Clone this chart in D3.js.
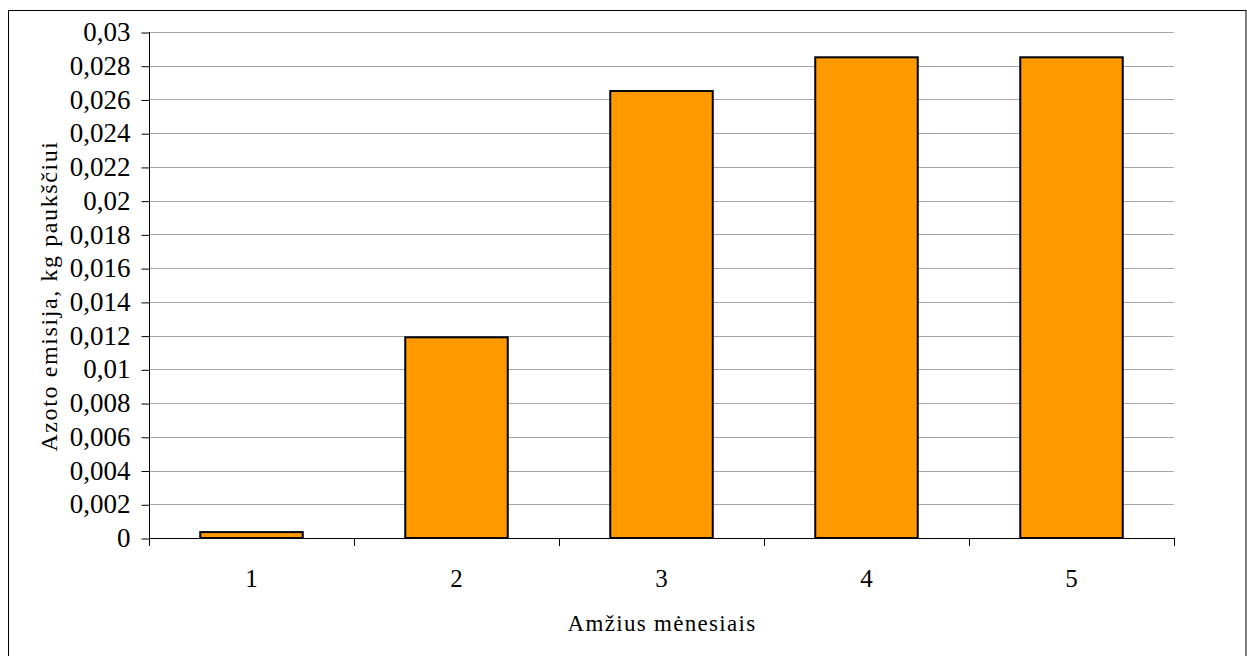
<!DOCTYPE html>
<html>
<head>
<meta charset="utf-8">
<script src="https://cdn.jsdelivr.net/npm/d3@7"></script>
<style>
  html, body { margin: 0; padding: 0; background: #fff; }
  svg { display: block; }
</style>
</head>
<body>
<svg id="chart" width="1247" height="656"></svg>
<script>
// Azoto emisija pagal amžių
const categories = ["1", "2", "3", "4", "5"];
const values = [0.00035, 0.0119, 0.0265, 0.0285, 0.0285];
const yTicks = [0, 0.002, 0.004, 0.006, 0.008, 0.01, 0.012, 0.014, 0.016, 0.018, 0.02, 0.022, 0.024, 0.026, 0.028, 0.03];
const xTitle = "Amžius mėnesiais";
const yTitle = "Azoto emisija, kg paukščiui";

const FONT = '"Liberation Serif", "Times New Roman", Times, serif';
const svg = d3.select("#chart");
const W = 1247, H = 656;
const m = { left: 149, right: 1174, top: 32, bottom: 538 };

// outer frame
svg.append("rect")
  .attr("x", 8.5).attr("y", 10.5)
  .attr("width", W - 9.5).attr("height", H)
  .attr("fill", "none").attr("stroke", "#000").attr("stroke-width", 1);

const x = d3.scaleBand().domain(categories)
  .range([m.left, m.right]).paddingInner(0.5).paddingOuter(0.25);
const y = d3.scaleLinear().domain([0, 0.03]).range([m.bottom, m.top]);

const fmt = d => String(+d.toFixed(3)).replace(".", ",");

// gridlines
svg.append("g").selectAll("line")
  .data(yTicks.filter(t => t > 0))
  .join("line")
  .attr("x1", m.left).attr("x2", m.right)
  .attr("y1", d => Math.round(y(d)) + 0.5).attr("y2", d => Math.round(y(d)) + 0.5)
  .attr("stroke", "#a6a6a6").attr("stroke-width", 1);

// bars
svg.append("g").selectAll("rect")
  .data(values)
  .join("rect")
  .attr("x", (d, i) => x(categories[i]))
  .attr("y", d => y(d))
  .attr("width", x.bandwidth())
  .attr("height", d => y(0) - y(d))
  .attr("fill", "#ff9900")
  .attr("stroke", "#000").attr("stroke-width", 2);

// y axis
const yAxis = d3.axisLeft(y).tickValues(yTicks).tickFormat(fmt).tickSize(8).tickPadding(11);
const gy = svg.append("g").attr("transform", `translate(${m.left + 0.5},0)`).call(yAxis)
  .attr("font-family", null).attr("font-size", null);
gy.selectAll(".tick line").attr("stroke", "#000").attr("transform", "translate(0,0.5)");
gy.select(".domain").attr("stroke", "#000").attr("d", `M0,${m.top}V${m.bottom + 8}`);
gy.selectAll(".tick text").attr("fill", "#000")
  .style("font-family", FONT).style("font-size", "27px");

// x axis: ticks on category boundaries
const boundaries = d3.range(categories.length + 1).map(i => m.left + i * x.step());
const gx = svg.append("g");
gx.append("line")
  .attr("x1", m.left).attr("x2", m.right)
  .attr("y1", m.bottom + 0.5).attr("y2", m.bottom + 0.5)
  .attr("stroke", "#000");
gx.selectAll("line.tk").data(boundaries).join("line")
  .attr("class", "tk")
  .attr("x1", d => Math.round(d) + 0.5).attr("x2", d => Math.round(d) + 0.5)
  .attr("y1", m.bottom).attr("y2", m.bottom + 8)
  .attr("stroke", "#000");
gx.selectAll("text").data(categories).join("text")
  .attr("x", d => x(d) + x.bandwidth() / 2)
  .attr("y", 587)
  .attr("text-anchor", "middle")
  .style("font-family", FONT).style("font-size", "25px")
  .text(d => d);

// axis titles
svg.append("text")
  .attr("x", 662).attr("y", 631)
  .attr("text-anchor", "middle")
  .style("font-family", FONT).style("font-size", "23px").style("letter-spacing", "1.3px")
  .text(xTitle);

svg.append("text")
  .attr("transform", `translate(57,296) rotate(-90)`)
  .attr("text-anchor", "middle")
  .style("font-family", FONT).style("font-size", "24px").style("letter-spacing", "1.6px")
  .text(yTitle);
</script>
</body>
</html>
